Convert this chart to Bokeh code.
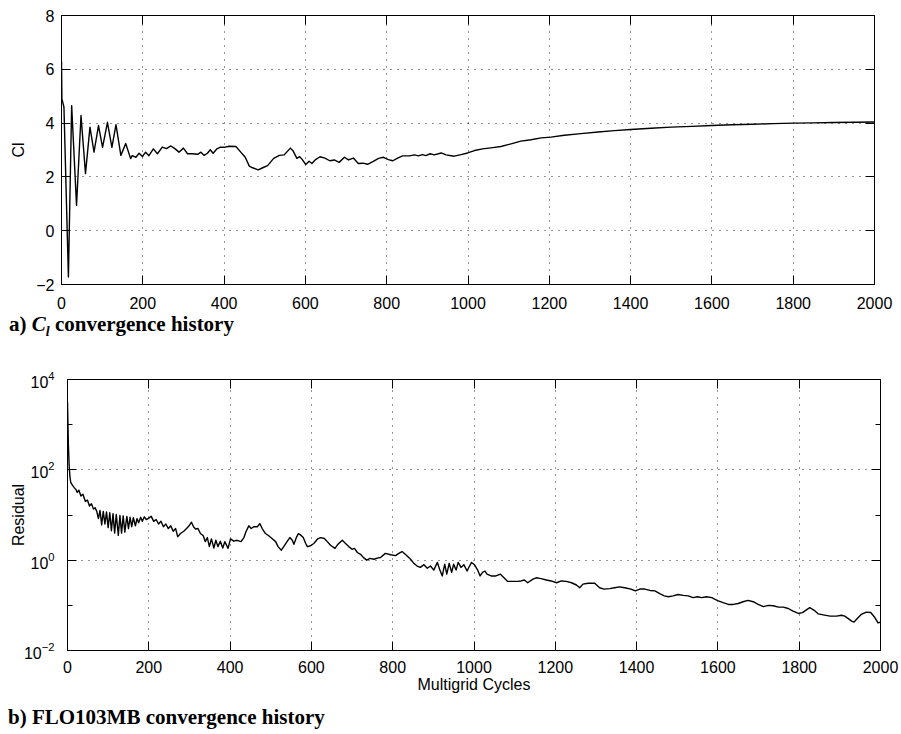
import numpy as np
from bokeh.plotting import figure
from bokeh.models import FixedTicker, LinearAxis, LogAxis, Div
from bokeh.layouts import column
from bokeh.embed import file_html
from bokeh.resources import INLINE

# ---------------- data ----------------
cycle_ticks = [0, 200, 400, 600, 800, 1000, 1200, 1400, 1600, 1800, 2000]
cl_ticks = [-2, 0, 2, 4, 6, 8]
res_ticks = [1e-2, 1e0, 1e2, 1e4]
res_minor_ticks = [1e-1, 1e1, 1e3]

# lift coefficient history
cl_cycles = [
    0, 1, 6, 17, 25, 37, 48, 59, 70, 80,
    91, 101, 113, 124, 134, 146, 158, 170, 174, 183,
    191, 199, 207, 215, 226, 236, 248, 258, 269, 279,
    289, 300, 310, 322, 335, 343, 351, 359, 366, 373,
    382, 390, 400, 412, 429, 441, 452, 462, 470, 484,
    495, 507, 522, 536, 548, 554, 563, 570, 579, 586,
    591, 601, 609, 616, 624, 636, 648, 660, 671, 683,
    696, 706, 718, 730, 742, 753, 767, 780, 792, 804,
    815, 827, 839, 856, 868, 878, 888, 896, 907, 917,
    934, 946, 966, 983, 999, 1016, 1036, 1061, 1081, 1106,
    1130, 1155, 1180, 1204, 1237, 1278, 1320, 1360, 1400, 1450,
    1500, 1550, 1600, 1650, 1700, 1750, 1800, 1850, 1900, 1950, 2000,
]
cl_values = [
    6.3, 4.9, 4.6, -1.72, 4.65, 0.94, 4.28, 2.12, 3.85, 2.92,
    3.91, 3.1, 4.03, 3.1, 3.94, 2.8, 3.24, 2.68, 2.79, 2.73,
    2.88, 2.76, 2.92, 2.79, 3.04, 2.86, 3.11, 3.05, 3.15, 3.05,
    2.92, 3.07, 2.86, 2.86, 2.84, 2.92, 2.80, 2.88, 3.01, 2.88,
    3.04, 3.10, 3.10, 3.14, 3.13, 2.92, 2.73, 2.40, 2.34, 2.26,
    2.34, 2.42, 2.69, 2.80, 2.82, 2.92, 3.07, 2.96, 2.69, 2.75,
    2.67, 2.46, 2.58, 2.50, 2.63, 2.75, 2.70, 2.60, 2.63, 2.54,
    2.73, 2.63, 2.70, 2.50, 2.51, 2.47, 2.58, 2.69, 2.73, 2.64,
    2.60, 2.70, 2.78, 2.78, 2.82, 2.78, 2.83, 2.79, 2.86, 2.82,
    2.89, 2.82, 2.77, 2.83, 2.89, 2.98, 3.04, 3.09, 3.13, 3.23,
    3.33, 3.38, 3.45, 3.48, 3.55, 3.61, 3.67, 3.72, 3.76, 3.81,
    3.85, 3.88, 3.91, 3.94, 3.96, 3.98, 4.00, 4.01, 4.02, 4.03, 4.04,
]

# residual history (stored as log10 of the residual)
res_cycles = [
    0, 2, 4, 6, 8, 12, 17, 21, 24, 28,
    33, 38, 44, 49, 54, 59, 64, 68, 72, 76,
    80, 84, 88, 92, 96, 100, 104, 108, 112, 116,
    120, 125, 129, 133, 137, 141, 146, 150, 154, 158,
    162, 167, 171, 175, 180, 184, 189, 194, 200, 206,
    212, 218, 224, 230, 236, 242, 248, 254, 260, 266,
    271, 278, 286, 293, 299, 305, 310, 315, 321, 327,
    334, 339, 344, 349, 354, 360, 365, 370, 376, 382,
    387, 395, 401, 409, 417, 427, 434, 439, 446, 452,
    458, 467, 473, 479, 487, 495, 503, 512, 518, 526,
    532, 540, 547, 553, 557, 563, 568, 573, 580, 586,
    590, 598, 606, 615, 623, 632, 639, 647, 658, 665,
    676, 684, 692, 700, 706, 713, 721, 729, 736, 744,
    754, 764, 770, 782, 795, 807, 815, 823, 831, 844,
    852, 860, 868, 877, 885, 893, 901, 910, 916, 922,
    928, 933, 939, 945, 950, 956, 961, 968, 975, 983,
    989, 994, 1001, 1009, 1015, 1021, 1027, 1032, 1042, 1054,
    1065, 1075, 1083, 1096, 1108, 1116, 1124, 1132, 1145, 1153,
    1165, 1178, 1190, 1203, 1215, 1227, 1240, 1252, 1260, 1268,
    1281, 1297, 1309, 1320, 1334, 1346, 1358, 1371, 1386, 1397,
    1408, 1420, 1433, 1445, 1457, 1468, 1478, 1490, 1502, 1515,
    1527, 1539, 1550, 1560, 1572, 1585, 1593, 1601, 1613, 1626,
    1638, 1650, 1662, 1674, 1687, 1699, 1712, 1724, 1736, 1749,
    1761, 1773, 1785, 1798, 1808, 1816, 1826, 1837, 1847, 1859,
    1876, 1892, 1904, 1912, 1920, 1929, 1935, 1943, 1953, 1965,
    1976, 1986, 1994, 2000,
]
res_log10 = [
    3.5, 2.6, 2.1, 1.85, 1.72, 1.66, 1.6, 1.56, 1.5, 1.55,
    1.42, 1.46, 1.3, 1.33, 1.2, 1.25, 1.13, 1.16, 1.08, 0.92,
    1.1, 0.78, 1.08, 0.8, 1.07, 0.72, 1.05, 0.65, 1.03, 0.6,
    1.01, 0.55, 0.99, 0.6, 0.98, 0.62, 0.97, 0.7, 0.95, 0.74,
    0.94, 0.76, 0.92, 0.83, 0.95, 0.86, 0.96, 0.9, 0.93, 0.97,
    0.86, 0.9, 0.8, 0.86, 0.74, 0.8, 0.7, 0.76, 0.64, 0.7,
    0.52, 0.59, 0.64, 0.70, 0.76, 0.84, 0.74, 0.69, 0.70, 0.59,
    0.54, 0.41, 0.50, 0.30, 0.47, 0.27, 0.44, 0.30, 0.42, 0.27,
    0.41, 0.26, 0.47, 0.42, 0.44, 0.41, 0.50, 0.63, 0.76, 0.70,
    0.74, 0.74, 0.81, 0.70, 0.59, 0.54, 0.48, 0.41, 0.30, 0.22,
    0.30, 0.41, 0.50, 0.44, 0.35, 0.50, 0.59, 0.56, 0.50, 0.37,
    0.30, 0.32, 0.37, 0.47, 0.50, 0.48, 0.41, 0.33, 0.26, 0.35,
    0.44, 0.37, 0.30, 0.24, 0.26, 0.17, 0.13, 0.05, 0.00, 0.04,
    0.02, 0.05, 0.06, 0.15, 0.12, 0.10, 0.15, 0.19, 0.13, 0.02,
    -0.07, -0.13, -0.16, -0.10, -0.18, -0.13, -0.22, -0.05, -0.22, -0.35,
    -0.09, -0.31, -0.07, -0.27, -0.09, -0.22, -0.05, -0.16, -0.10, -0.24,
    -0.13, -0.05, -0.10, -0.22, -0.35, -0.27, -0.24, -0.31, -0.35, -0.35,
    -0.31, -0.40, -0.47, -0.47, -0.47, -0.46, -0.44, -0.50, -0.42, -0.39,
    -0.41, -0.44, -0.46, -0.50, -0.46, -0.47, -0.50, -0.55, -0.61, -0.53,
    -0.51, -0.51, -0.61, -0.64, -0.63, -0.61, -0.59, -0.61, -0.64, -0.68,
    -0.64, -0.64, -0.67, -0.68, -0.74, -0.79, -0.81, -0.79, -0.76, -0.78,
    -0.79, -0.83, -0.81, -0.83, -0.81, -0.83, -0.87, -0.90, -0.94, -0.98,
    -0.98, -0.96, -0.92, -0.89, -0.92, -0.98, -1.03, -1.00, -1.01, -1.04,
    -1.04, -1.07, -1.13, -1.18, -1.16, -1.11, -1.05, -1.11, -1.19, -1.21,
    -1.24, -1.24, -1.22, -1.24, -1.29, -1.35, -1.37, -1.29, -1.20, -1.15,
    -1.16, -1.27, -1.39, -1.37,
]
residual = np.power(10.0, np.array(res_log10))

# ---------------- styling helpers ----------------
SANS = "Liberation Sans"
GRID_DASH = "1 6"
LINE_W = 1.4


def style_axis(ax, ticker, labels=True, standoff=7, minor=False):
    ax.ticker = ticker
    ax.axis_line_color = "black"
    ax.axis_line_width = 1
    ax.major_tick_line_color = "black"
    ax.major_tick_in = 9
    ax.major_tick_out = 0
    if minor:
        ax.minor_tick_line_color = "black"
        ax.minor_tick_in = 5
        ax.minor_tick_out = 0
    else:
        ax.minor_tick_line_color = None
    if labels:
        ax.major_label_text_font = SANS
        ax.major_label_text_font_size = "16px"
        ax.major_label_text_color = "black"
        ax.major_label_standoff = standoff
        ax.axis_label_text_font = SANS
        ax.axis_label_text_font_size = "16px"
        ax.axis_label_text_font_style = "normal"
        ax.axis_label_text_color = "black"
    else:
        # mirrored tick marks only; the labels are not drawn
        ax.major_label_text_font_size = "1px"
        ax.major_label_text_color = None
        ax.major_label_standoff = 0


def style_grid(p):
    for g in (p.xgrid[0], p.ygrid[0]):
        g.grid_line_color = "black"
        g.grid_line_dash = GRID_DASH
        g.grid_line_width = 1
        g.grid_line_alpha = 0.85


# both panels use the same borders; the upper one sits 6 px further left
BORDER = dict(min_border_left=67, min_border_right=21)

# ---------------- a) lift coefficient ----------------
p1 = figure(
    width=901, height=312,
    x_range=(0, 2000), y_range=(-2, 8),
    output_backend="svg", toolbar_location=None,
    min_border_top=15, min_border_bottom=28,
    background_fill_color="white", border_fill_color="white",
    margin=(0, 0, 0, -6),
    **BORDER,
)
p1.outline_line_color = "black"
p1.line(cl_cycles, cl_values, line_color="black", line_width=LINE_W, line_join="round")

style_axis(p1.xaxis[0], FixedTicker(ticks=cycle_ticks), standoff=12)
style_axis(p1.yaxis[0], FixedTicker(ticks=cl_ticks), standoff=7)
p1.yaxis[0].axis_label = "Cl"
p1.yaxis[0].axis_label_standoff = 6
p1.yaxis[0].major_label_overrides = {-2: "\u22122"}
p1.xgrid[0].ticker = FixedTicker(ticks=cycle_ticks)
p1.ygrid[0].ticker = FixedTicker(ticks=cl_ticks)
style_grid(p1)

top1 = LinearAxis()
style_axis(top1, FixedTicker(ticks=cycle_ticks), labels=False)
p1.add_layout(top1, "above")
right1 = LinearAxis()
style_axis(right1, FixedTicker(ticks=cl_ticks), labels=False)
p1.add_layout(right1, "right")

# ---------------- b) residual ----------------
p2 = figure(
    width=901, height=350,
    x_range=(0, 2000), y_range=(1e-2, 1e4), y_axis_type="log",
    output_backend="svg", toolbar_location=None,
    min_border_top=29, min_border_bottom=50,
    background_fill_color="white", border_fill_color="white",
    **BORDER,
)
p2.outline_line_color = "black"
p2.line(res_cycles, residual, line_color="black", line_width=LINE_W, line_join="round")

style_axis(p2.xaxis[0], FixedTicker(ticks=cycle_ticks), standoff=10)
p2.xaxis[0].axis_label = "Multigrid Cycles"
p2.xaxis[0].axis_label_standoff = 0
# power-of-ten labels (10 with a raised exponent)
style_axis(p2.yaxis[0], FixedTicker(ticks=res_ticks, minor_ticks=res_minor_ticks),
           standoff=13, minor=True)
p2.yaxis[0].axis_label = "Residual"
p2.yaxis[0].axis_label_standoff = -6
p2.xgrid[0].ticker = FixedTicker(ticks=cycle_ticks)
p2.ygrid[0].ticker = FixedTicker(ticks=res_ticks)
style_grid(p2)

top2 = LinearAxis()
style_axis(top2, FixedTicker(ticks=cycle_ticks), labels=False)
p2.add_layout(top2, "above")
right2 = LogAxis()
style_axis(right2, FixedTicker(ticks=res_ticks, minor_ticks=res_minor_ticks),
           labels=False, minor=True)
p2.add_layout(right2, "right")

# ---------------- captions ----------------
cap_css = ("font-family:'Liberation Serif',serif;font-weight:bold;font-size:21px;"
           "line-height:21px;color:#000;white-space:nowrap;margin:0;")
cap_a = Div(
    text=(f'<div style="{cap_css}padding:2px 0 0 9px">a) <i>C<sub style="font-size:14px;'
          'line-height:0">l</sub></i> convergence history</div>'),
    width=901, height=38, margin=0,
)
cap_b = Div(
    text=f'<div style="{cap_css}padding:7px 0 0 8px">b) FLO103MB convergence history</div>',
    width=901, height=34, margin=0,
)

layout = column(p1, cap_a, p2, cap_b, spacing=0)

with open("out.html", "w") as f:
    f.write(file_html(layout, INLINE, title="Convergence history"))
